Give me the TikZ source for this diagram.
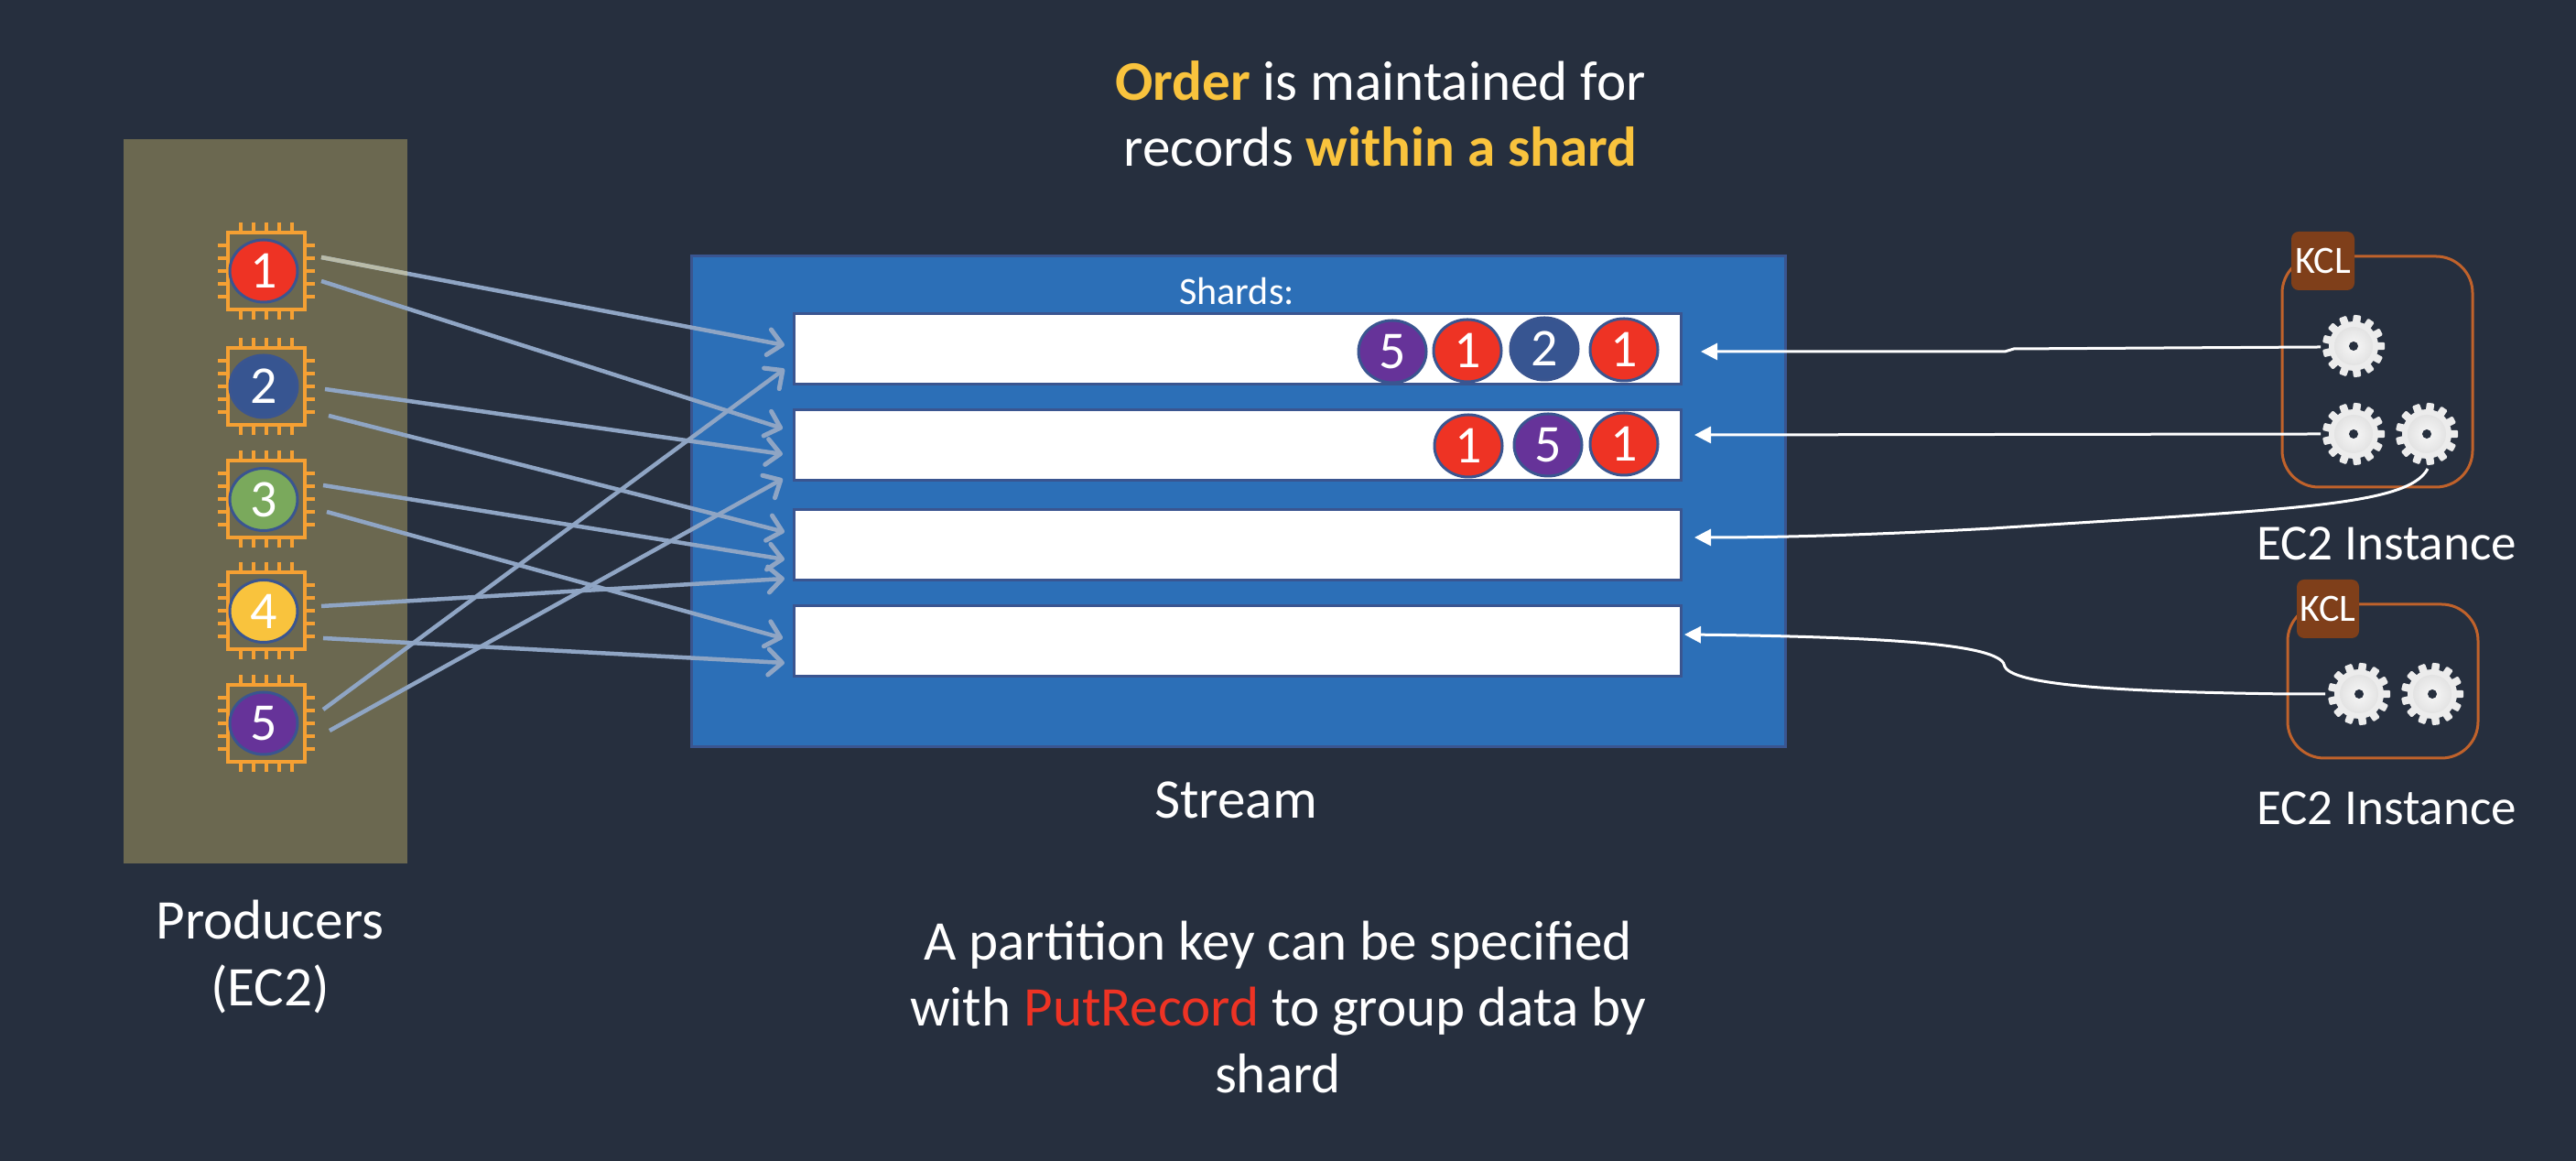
\documentclass[tikz,border=0pt]{standalone}
\usepackage{xcolor}
\usepackage{fontspec}
\setmainfont{Carlito}
\usepackage{tikz}
\usetikzlibrary{
    arrows.meta,
    calc,
    shapes.geometric
}
\definecolor{bgcol}{HTML}{262F3E}
\definecolor{panelcol}{HTML}{6B6850}
\definecolor{streamcol}{HTML}{2C6FB7}
\definecolor{edgecol}{HTML}{3A5590}
\definecolor{pincol}{HTML}{F5A033}
\definecolor{linkcol}{HTML}{8FA5C4}
\definecolor{fadecol}{HTML}{B9BBA8}
\definecolor{redcol}{HTML}{EE3324}
\definecolor{bluecol}{HTML}{375591}
\definecolor{greencol}{HTML}{7AA95C}
\definecolor{yellowcol}{HTML}{F9C33D}
\definecolor{purplecol}{HTML}{663399}
\definecolor{kclcol}{HTML}{7F3F1A}
\definecolor{boxcol}{HTML}{C0622B}
\tikzset{
    record/.style={ellipse, draw=edgecol, line width=0.03cm, fill=#1, text=white,
        minimum width=0.74cm, minimum height=0.68cm, inner sep=0pt, font=\fontsize{16.5}{16.5}\selectfont},
    shardbox/.style={draw=edgecol, line width=0.03cm, fill=white},
    label/.style={text=white, align=center, font=\fontsize{17.4}{20.5}\selectfont},
    eclabel/.style={text=white, font=\fontsize{15.7}{18}\selectfont},
    putlink/.style={draw=#1, line width=0.045cm, -{Straight Barb[length=0.15cm, width=0.28cm, line width=0.05cm, round]}},
    putlink/.default=linkcol,
    getlink/.style={draw=white, line width=0.03cm, -{Triangle[length=0.18cm, width=0.18cm]}},
    kclbox/.style={draw=boxcol, line width=0.03cm, rounded corners=0.4cm},
    kcltag/.style={fill=kclcol, rounded corners=0.08cm, text=white, inner sep=0pt, font=\fontsize{12}{12}\selectfont},
    gear/.pic={
        \foreach \a in {0,27.7,...,340}
            \fill[gray!15, rotate=\a, rounded corners=0.012cm] (0.22,-0.042) rectangle (0.34,0.042);
        \fill[gray!15] (0,0) circle (0.27);
        \shade[inner color=gray!6, outer color=gray!22] (0,0) circle (0.21);
        \fill[bgcol] (0,0) circle (0.05);
    }
}
\begin{document}
\begin{tikzpicture}
    % Background
    \fill[bgcol] (0,0) rectangle (28.14,12.68);
    \useasboundingbox (0,0) rectangle (28.14,12.68);

    % Producers
    \fill[panelcol] (1.35,3.25) rectangle (4.45,11.16);
    \foreach \name/\y/\col/\txt in {a/9.72/redcol/1, b/8.46/bluecol/2, c/7.225/greencol/3, d/6.005/yellowcol/4, e/4.78/purplecol/5} {
        \node[draw=pincol, line width=0.04cm, minimum size=0.84cm, inner sep=0pt] (chip\name) at (2.905,\y) {};
        \foreach \d in {-0.28,-0.14,0,0.14,0.28} {
            \draw[pincol, line width=0.04cm] (2.905+\d,\y+0.42) -- ++(0,0.11);
            \draw[pincol, line width=0.04cm] (2.905+\d,\y-0.42) -- ++(0,-0.11);
            \draw[pincol, line width=0.04cm] (2.905+0.42,\y+\d) -- ++(0.11,0);
            \draw[pincol, line width=0.04cm] (2.905-0.42,\y+\d) -- ++(-0.11,0);
        }
        \node[record=\col] (prod\name) at (2.88,\y) {\txt};
    }
    \node[label] (producers) at (2.95,2.23) {Producers\\(EC2)};

    % Stream
    \node[draw=edgecol, line width=0.03cm, fill=streamcol, minimum width=11.95cm, minimum height=5.36cm, inner sep=0pt] (stream) at (13.525,7.20) {};
    \foreach \name/\y in {one/8.865, two/7.815, three/6.73, four/5.675}
        \node[shardbox, minimum width=9.69cm, minimum height=0.77cm, inner sep=0pt] (shard\name) at (13.515,\y) {};
    \node[text=white, font=\fontsize{12}{12}\selectfont] (shards) at (13.51,9.5) {Shards:};
    \node[label] (streamlabel) at (13.5,3.94) {Stream};

    % Records
    \node[record=purplecol] (r1) at (15.21,8.84) {5};
    \node[record=redcol] (r2) at (16.03,8.85) {1};
    \node[record=bluecol] (r3) at (16.87,8.87) {2};
    \node[record=redcol] (r4) at (17.74,8.86) {1};
    \node[record=redcol] (r5) at (16.04,7.81) {1};
    \node[record=purplecol] (r6) at (16.91,7.82) {5};
    \node[record=redcol] (r7) at (17.74,7.83) {1};

    % Arrow ends at the stream
    \foreach \name/\xa/\ya/\xb/\yb in {
        a1/3.51/9.87/8.57/8.91,
        a2/3.51/9.61/8.55/8.00,
        b1/3.55/8.43/8.55/7.72,
        b2/3.59/8.14/8.57/6.87,
        c1/3.53/7.38/8.57/6.57,
        c2/3.57/7.09/8.55/5.71,
        d1/3.51/6.06/8.57/6.36,
        d2/3.53/5.71/8.57/5.44,
        e1/3.53/4.93/8.57/8.65,
        e2/3.60/4.70/8.55/7.45} {
        \coordinate (out\name) at (\xa,\ya);
        \coordinate (in\name) at (\xb,\yb);
    }
    \foreach \name in {a1,a2,b1,b2,c1,c2,d1,d2,e1,e2}
        \draw[putlink] (out\name) -- (in\name);
    \begin{scope}
        \clip (1.35,3.25) rectangle (4.45,11.16);
        \draw[putlink=fadecol] (outa1) -- (ina1);
    \end{scope}

    % Consumers
    \draw[kclbox] (24.93,7.36) rectangle (27.01,9.88);
    \node[kcltag, minimum width=0.69cm, minimum height=0.64cm] (kcla) at (25.375,9.83) {KCL};
    \draw[kclbox] (24.99,4.40) rectangle (27.07,6.08);
    \node[kcltag, minimum width=0.68cm, minimum height=0.64cm] (kclb) at (25.43,6.03) {KCL};
    \coordinate (gearone) at (25.71,8.90);
    \coordinate (geartwo) at (25.71,7.94);
    \coordinate (gearthree) at (26.51,7.94);
    \coordinate (gearfour) at (25.77,5.10);
    \coordinate (gearfive) at (26.57,5.10);
    \foreach \name in {gearone,geartwo,gearthree,gearfour,gearfive}
        \pic at (\name) {gear};
    \node[eclabel] (econe) at (26.07,6.74) {EC2 Instance};
    \node[eclabel] (ectwo) at (26.07,3.85) {EC2 Instance};

    % Reads
    \coordinate (tipone) at (18.58,8.84);
    \coordinate (tiptwo) at (18.51,7.93);
    \coordinate (tipthree) at (18.51,6.81);
    \coordinate (tipfour) at (18.40,5.75);
    \coordinate (startone) at (25.35,8.89);
    \coordinate (starttwo) at (25.35,7.94);
    \coordinate (startthree) at (26.52,7.56);
    \coordinate (startfour) at (25.40,5.10);
    \draw[getlink] (startone) -- (22.00,8.87) -- (21.90,8.84) -- (tipone);
    \draw[getlink] (starttwo) -- (tiptwo);
    \draw[getlink] (startthree) .. controls (26.30,7.15) and (25.00,7.12) .. (21.77,6.91) .. controls (20.50,6.84) and (19.50,6.81) .. (tipthree);
    \draw[getlink] (startfour) -- (24.99,5.10) .. controls (23.50,5.12) and (22.00,5.17) .. (21.90,5.40) .. controls (21.88,5.62) and (20.90,5.72) .. (tipfour);

    % Headings
    \node[label] (title) at (15.08,11.44) {\textbf{\textcolor{yellowcol}{Order}} is maintained for\\records \textbf{\textcolor{yellowcol}{within a shard}}};
    \node[label] (note) at (13.96,1.68) {A partition key can be specified\\with \textcolor{redcol}{PutRecord} to group data by\\shard};
\end{tikzpicture}
\end{document}
